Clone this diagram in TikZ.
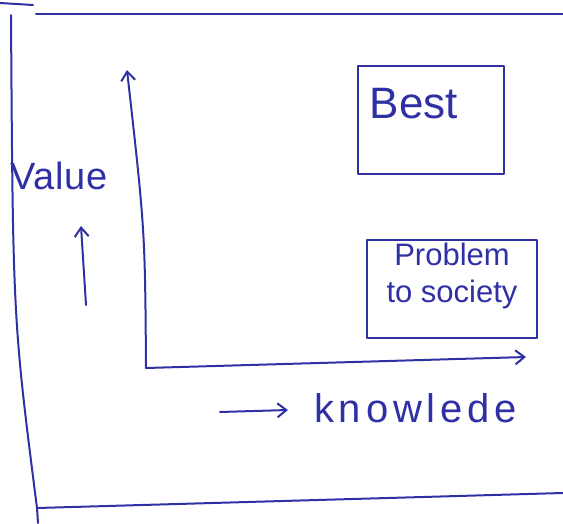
\documentclass[tikz,border=0pt]{standalone}
\usepackage{fontspec}
\setmainfont{Liberation Sans}
\usetikzlibrary{arrows.meta}
\definecolor{ink}{RGB}{48,48,165}
\tikzset{
  inkline/.style={draw=ink, line width=2pt, line cap=round, line join=round},
  axisarrow/.style={inkline, -{Straight Barb[length=9pt,width=14pt,line width=2pt]}},
  box/.style={inkline, rectangle, inner sep=0pt},
  hand/.style={text=ink, inner sep=0pt},
}
\begin{document}
\begin{tikzpicture}[x=1pt,y=-1pt]
  \useasboundingbox (0,0) rectangle (563,523);
  % outer frame
  \coordinate (ftl) at (11,15);
  \coordinate (ftr) at (563,14);
  \coordinate (fbl) at (37,508);
  \coordinate (fbr) at (563,493);
  \coordinate (fbot) at (38,523);
  \draw[inkline] (36,14) -- (ftr);
  \draw[inkline] (ftl) .. controls (13,320) .. (fbl) -- (fbot);
  \draw[inkline] (fbl) -- (fbr);
  \draw[inkline] (0,3) -- (33,5);
  % axes
  \coordinate (origin) at (146,368);
  \coordinate (ytop) at (127,70);
  \coordinate (xend) at (526,357);
  \draw[axisarrow] (origin) .. controls (145,230) .. (ytop);
  \draw[axisarrow] (origin) -- (xend);
  % labels
  \node[hand, anchor=west, font=\fontsize{38}{40}\selectfont\addfontfeature{LetterSpace=2}] (value) at (10,176) {Value};
  \coordinate (vb) at (86,305);
  \coordinate (vt) at (81,226);
  \draw[axisarrow] (vb) -- (vt);
  \coordinate (kb) at (220,412);
  \coordinate (kt) at (288,410);
  \draw[axisarrow] (kb) -- (kt);
  \node[hand, anchor=west, font=\fontsize{40}{42}\selectfont\addfontfeature{LetterSpace=12}] (know) at (314,408) {knowlede};
  % boxes
  \node[box, minimum width=146pt, minimum height=108pt] (best) at (431,120) {};
  \node[hand, font=\fontsize{44}{46}\selectfont] (besttext) at (414,104) {Best};
  \node[box, minimum width=170pt, minimum height=98pt] (prob) at (452,289) {};
  \node[hand, align=center, font=\fontsize{31}{37}\selectfont] (probtext) at (452,276) {Problem\\to society};
\end{tikzpicture}
\end{document}
